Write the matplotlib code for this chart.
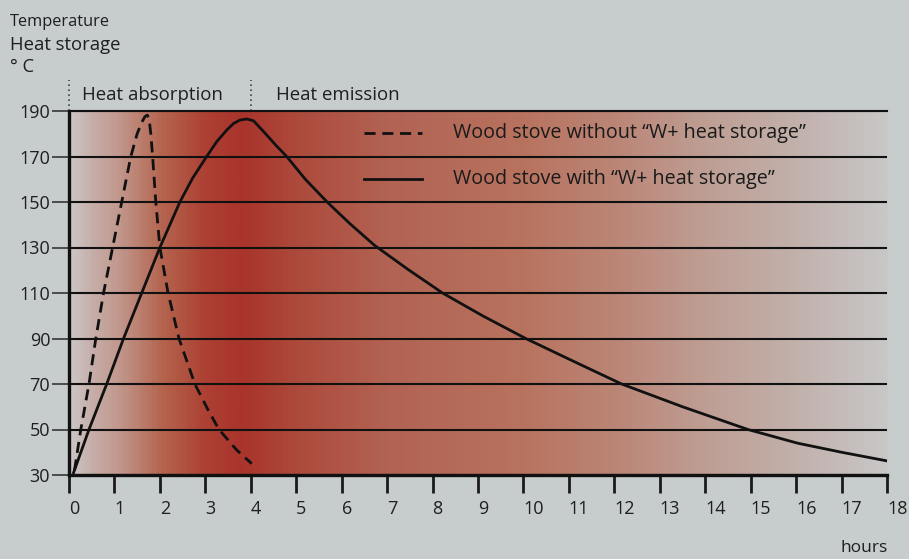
import matplotlib
matplotlib.use("Agg")
import matplotlib.pyplot as plt
import numpy as np
from matplotlib.colors import LinearSegmentedColormap

plt.rcParams["font.family"] = ["Open Sans", "DejaVu Sans"]

hours = list(range(0, 19))
temp_ticks = list(range(30, 191, 20))

# wood stove without heat storage (dashed)
without_x = [0.12, 0.26, 0.44, 0.59, 0.76, 0.96, 1.16, 1.36, 1.50, 1.60, 1.67, 1.72, 1.76, 1.80, 1.84, 1.91, 2.00, 2.18, 2.42, 2.77, 3.05, 3.30, 3.69, 4.02]
without_y = [32, 50, 70, 90, 110, 130, 150, 170, 180, 185, 187.5, 188.2, 187, 180, 170, 150, 130, 110, 90, 70, 59, 50, 41, 35]

# wood stove with heat storage (solid)
with_x = [0.10, 0.44, 0.83, 1.20, 1.60, 2.00, 2.44, 2.72, 3.03, 3.25, 3.47, 3.62, 3.76, 3.91, 4.06, 4.28, 4.55, 4.79, 5.20, 5.68,
          6.18, 6.72, 7.45, 8.22, 9.10, 10.05, 11.10, 12.16, 13.50, 14.94, 16.03, 17.00, 18.00]
with_y = [31, 50, 70, 90, 110, 130, 150, 160.5, 170, 176.5, 181.6, 184.5, 186, 186.5, 185.7, 181, 175, 170, 160, 150,
          140.5, 131, 120.5, 110, 100, 90, 80, 70, 60, 50, 44, 40, 36.2]

# background shading (hour, colour)
shade_hours = [0, 0.5, 1, 2, 3, 3.8, 5, 7, 10, 12, 14, 16, 18]
shade_colors = ["#cbc6c6", "#c6aca6", "#c29a90", "#b4654f", "#ad3f33", "#a9342b",
                "#ad4a3c", "#b26353", "#b8735f", "#bb8576", "#be9e93", "#c2b0ab", "#c8c7c7"]

bg = "#c7cccc"
fig = plt.figure(figsize=(9.09, 5.59), dpi=100, facecolor=bg)
ax = fig.add_axes([69 / 909, 84 / 559, 818 / 909, 364 / 559])
ax.set_facecolor(bg)

cmap = LinearSegmentedColormap.from_list("shade", list(zip([h / 18 for h in shade_hours], shade_colors)))
grad = np.linspace(0, 1, 600).reshape(1, -1)
ax.imshow(grad, cmap=cmap, extent=[0, 18, 30, 190], aspect="auto", zorder=0)

ax.set_xlim(0, 18)
ax.set_ylim(30, 190)
ax.set_xticks(hours)
ax.set_yticks(temp_ticks)
ax.grid(axis="y", color="#111111", lw=1.5)
ax.grid(axis="x", visible=False)

ax.spines["right"].set_visible(False)
ax.spines["left"].set_linewidth(2.4)
ax.spines["bottom"].set_linewidth(2.4)
ax.spines["top"].set_linewidth(1.5)
for s in ["left", "bottom", "top"]:
    ax.spines[s].set_color("#111111")

ax.tick_params(axis="x", direction="out", length=13, width=2.0, color="#1a1a1a",
               labelsize=13, labelcolor="#1f1f1f", pad=5)
ax.tick_params(axis="y", direction="out", length=12, width=1.1, color="#2a2a2a",
               labelsize=13, labelcolor="#1f1f1f", pad=1.5)
for lbl in ax.get_xticklabels():
    lbl.set_ha("left")

ax.plot(without_x, without_y, color="#111111", lw=2.0, dashes=(4, 2.4), zorder=3)
ax.plot(with_x, with_y, color="#111111", lw=2.0, zorder=3)

# legend drawn by hand
ax.plot([6.5, 7.77], [180.3, 180.3], color="#111111", lw=2.0, dashes=(4, 2.4))
ax.plot([6.5, 7.77], [160.1, 160.1], color="#111111", lw=2.0)
ax.text(8.45, 180.3, "Wood stove without \u201cW+ heat storage\u201d", fontsize=14.2, color="#1a1a1a", va="center")
ax.text(8.45, 160.1, "Wood stove with \u201cW+ heat storage\u201d", fontsize=14.2, color="#1a1a1a", va="center")

# phase markers above the plot
for xv in [0, 4]:
    ax.plot([xv, xv], [190, 203.6], color="#444444", lw=1.2, ls=(0, (1, 2)), clip_on=False)
ax.text(0.29, 197, "Heat absorption", fontsize=13.4, color="#1f1f1f", va="center")
ax.text(4.55, 197, "Heat emission", fontsize=13.4, color="#1f1f1f", va="center")

fig.text(10 / 909, 1 - 22 / 559, "Temperature", fontsize=11.8, color="#1f1f1f", va="center")
fig.text(10 / 909, 1 - 45 / 559, "Heat storage", fontsize=13.3, color="#1f1f1f", va="center")
fig.text(10 / 909, 1 - 67 / 559, "\u00b0 C", fontsize=13.3, color="#1f1f1f", va="center")
fig.text(888 / 909, 1 - 548 / 559, "hours", fontsize=12.5, color="#1f1f1f", ha="right", va="center")

fig.savefig("out.png", dpi=100, facecolor=bg)
